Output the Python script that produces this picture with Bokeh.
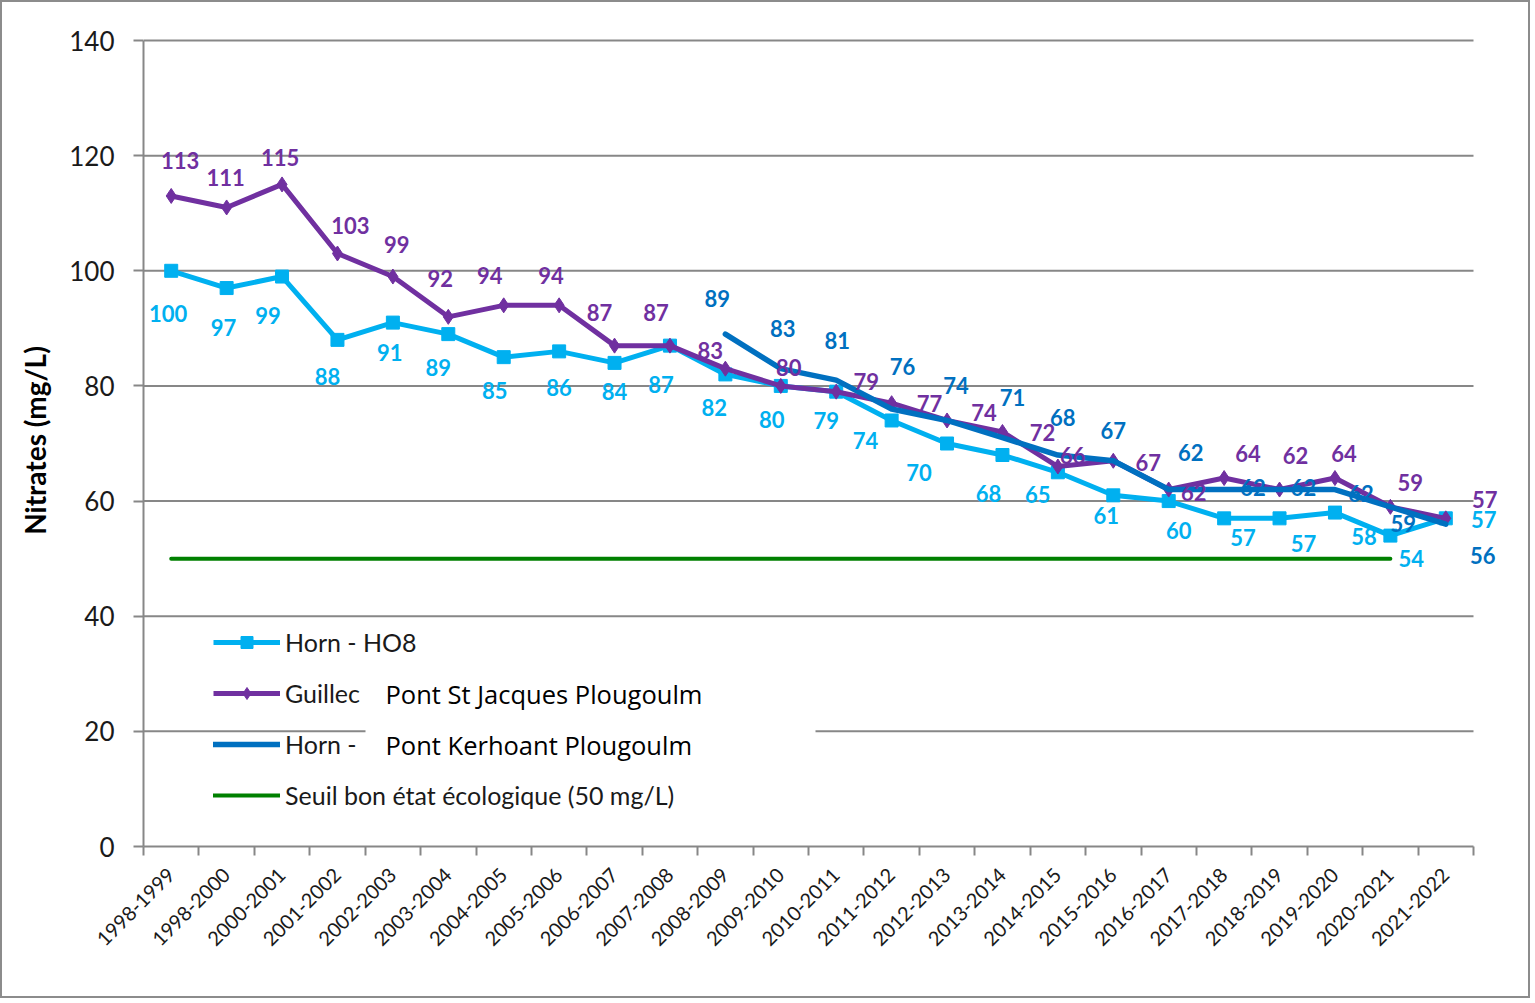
import math
import numpy as np
from bokeh.plotting import figure
from bokeh.models import (Range1d, FixedTicker, ColumnDataSource, Legend,
                          LegendItem, BoxAnnotation, Label, LabelSet)
from bokeh.core.properties import value
from bokeh.embed import file_html
from bokeh.resources import INLINE

# ---------------- data ----------------
categories = ["1998-1999", "1998-2000", "2000-2001", "2001-2002", "2002-2003", "2003-2004",
              "2004-2005", "2005-2006", "2006-2007", "2007-2008", "2008-2009", "2009-2010",
              "2010-2011", "2011-2012", "2012-2013", "2013-2014", "2014-2015", "2015-2016",
              "2016-2017", "2017-2018", "2018-2019", "2019-2020", "2020-2021", "2021-2022"]
horn_ho8 = [100, 97, 99, 88, 91, 89, 85, 86, 84, 87, 82, 80, 79, 74, 70, 68, 65, 61, 60, 57, 57, 58, 54, 57]
guillec = [113, 111, 115, 103, 99, 92, 94, 94, 87, 87, 83, 80, 79, 77, 74, 72, 66, 67, 62, 64, 62, 64, 59, 57]
horn_kerhoant = [None, None, None, None, None, None, None, None, None, None,
                 89, 83, 81, 76, 74, 71, 68, 67, 62, 62, 62, 62, 59, 56]
seuil = [50, 50, 50, 50, 50, 50, 50, 50, 50, 50, 50, 50,
         50, 50, 50, 50, 50, 50, 50, 50, 50, 50, 50, None]
y_ticks = [0, 20, 40, 60, 80, 100, 120, 140]

# label placement (screen px offsets, +right, +down)
ho8_lab_off = [(-3, 43), (-3, 39), (-14, 39), (-10, 37), (-3, 30), (-10, 33), (-9, 33), (0, 36),
               (0, 29), (-9, 39), (-11, 33), (-9, 34), (-10, 29), (-26, 20), (-28, 29), (-14, 38),
               (-20, 22), (-7, 20), (10, 29), (19, 19), (24, 25), (29, 24), (21, 23), (38, 1)]
gui_lab_off = [(9, -35), (-1, -30), (-2, -27), (13, -28), (4, -32), (-8, -38), (-14, -30), (-8, -30),
               (-15, -33), (-14, -33), (-15, -18), (8, -18), (30, -10), (38, 0), (37, -8), (40, 1),
               (15, -11), (35, 2), (25, 3), (24, -25), (16, -34), (9, -25), (20, -24), (39, -19)]
ker_lab_off = [(-8, -36), (2, -40), (1, -40), (11, -42), (9, -35), (10, -40), (5, -38), (0, -30),
               (22, -37), (29, -2), (24, -2), (26, 4), (13, 17), (37, 31)]

C_HO8 = "#00B0F0"
C_GUI = "#7030A0"
C_KER = "#0070C0"
C_SEU = "#008000"
GRID = "#878787"
FONT = "Lato"

n = len(categories)
xc = [i + 0.5 for i in range(n)]

# layout: category axis spans 143..1473 px, frame extended to 1505 so end labels are not clipped
X_PER = (1473 - 143) / n
X_END = (1505 - 143) / X_PER
Y_PER = (846 - 40) / 140
Y_END = 140 + 6 / Y_PER


def arr(v):
    return np.array([np.nan if a is None else a for a in v], dtype=float)


p = figure(width=1530, height=998, x_range=Range1d(0, X_END), y_range=Range1d(0, Y_END),
           output_backend="svg", toolbar_location=None,
           min_border_left=141, min_border_right=27, min_border_top=32, min_border_bottom=154)
p.styles = {"border": "2px solid #8c8c8c"}
p.outline_line_color = None
p.background_fill_color = "white"
p.border_fill_color = "white"
p.xgrid.grid_line_color = None
p.ygrid.grid_line_color = None

# horizontal gridlines, limited to the category span
grid_src = ColumnDataSource(dict(x0=[0] * (len(y_ticks) - 1), x1=[n] * (len(y_ticks) - 1),
                                 y=y_ticks[1:]))
p.segment(x0="x0", y0="y", x1="x1", y1="y", source=grid_src, line_color=GRID, line_width=2)

# y axis
p.yaxis.ticker = FixedTicker(ticks=y_ticks)
p.yaxis.bounds = (0, 140)
p.yaxis.axis_line_color = GRID
p.yaxis.axis_line_width = 2
p.yaxis.major_tick_line_color = GRID
p.yaxis.major_tick_line_width = 2
p.yaxis.major_tick_out = 10
p.yaxis.major_tick_in = 0
p.yaxis.minor_tick_line_color = None
p.yaxis.major_label_text_font = FONT
p.yaxis.major_label_text_font_size = "26px"
p.yaxis.major_label_text_color = "#1a1a1a"
p.yaxis.major_label_standoff = 19
p.yaxis.axis_label = "Nitrates (mg/L)"
p.yaxis.axis_label_text_font = FONT
p.yaxis.axis_label_text_font_style = "bold"
p.yaxis.axis_label_text_font_size = "28px"
p.yaxis.axis_label_text_color = "#000000"
p.yaxis.axis_label_standoff = 14

# x axis: labels at category centres, tick marks at category boundaries (minor ticks)
xa = p.xaxis[0]
xa.ticker = FixedTicker(ticks=xc, minor_ticks=list(range(n + 1)))
xa.bounds = (0, n)
xa.major_label_overrides = {x: c for x, c in zip(xc, categories)}
xa.major_tick_line_color = None
xa.minor_tick_line_color = GRID
xa.minor_tick_line_width = 2
xa.minor_tick_out = 9
xa.minor_tick_in = 0
xa.axis_line_color = GRID
xa.axis_line_width = 2
xa.major_label_orientation = math.pi / 4
xa.major_label_text_font = FONT
xa.major_label_text_font_size = "20px"
xa.major_label_text_color = "#1a1a1a"
xa.major_label_standoff = 16

# series
src_ho8 = ColumnDataSource(dict(x=xc, y=arr(horn_ho8)))
src_gui = ColumnDataSource(dict(x=xc, y=arr(guillec)))
src_ker = ColumnDataSource(dict(x=xc, y=arr(horn_kerhoant)))
src_seu = ColumnDataSource(dict(x=xc, y=arr(seuil)))

l_ho8 = p.line("x", "y", source=src_ho8, line_color=C_HO8, line_width=5, line_join="round")
m_ho8 = p.scatter("x", "y", source=src_ho8, marker="square", size=13, fill_color=C_HO8, line_color=C_HO8)
l_gui = p.line("x", "y", source=src_gui, line_color=C_GUI, line_width=5, line_join="round")
m_gui = p.scatter("x", "y", source=src_gui, marker="diamond", size=15, fill_color=C_GUI, line_color=C_GUI)
l_ker = p.line("x", "y", source=src_ker, line_color=C_KER, line_width=5.5, line_join="round", line_cap="round")
l_seu = p.line("x", "y", source=src_seu, line_color=C_SEU, line_width=4, line_cap="round")


def labels(values, offs, color):
    xs, ys, ts, dx, dy = [], [], [], [], []
    k = 0
    for i, v in enumerate(values):
        if v is None:
            continue
        xs.append(xc[i]); ys.append(v); ts.append(str(v))
        dx.append(offs[k][0]); dy.append(-offs[k][1])
        k += 1
    src = ColumnDataSource(dict(x=xs, y=ys, t=ts, dx=dx, dy=dy))
    p.add_layout(LabelSet(x="x", y="y", text="t", x_offset="dx", y_offset="dy", source=src,
                          text_color=color, text_font=value(FONT), text_font_style="bold",
                          text_font_size="22px", text_align="center", text_baseline="middle"))


labels(horn_ho8, ho8_lab_off, C_HO8)
labels(guillec, gui_lab_off, C_GUI)
labels(horn_kerhoant, ker_lab_off, C_KER)


def px_x(px):
    return (px - 143) / X_PER


def px_y(py):
    return (846 - py) / Y_PER


# white pasted box behind legend overlay texts
p.add_layout(BoxAnnotation(left=px_x(365), right=px_x(815), bottom=px_y(764), top=px_y(668),
                           fill_color="white", fill_alpha=1, line_color=None, level="annotation"))

legend = Legend(items=[
    LegendItem(label="Horn - HO8", renderers=[l_ho8, m_ho8]),
    LegendItem(label="Guillec", renderers=[l_gui, m_gui]),
    LegendItem(label="Horn -", renderers=[l_ker]),
    LegendItem(label="Seuil bon état écologique (50 mg/L)", renderers=[l_seu]),
], location=(70, 36), orientation="vertical", background_fill_alpha=0, border_line_color=None,
    padding=0, margin=0, spacing=21, glyph_height=30, label_height=30, glyph_width=67,
    label_standoff=5, label_text_font=FONT, label_text_font_size="25px", label_text_color="#1a1a1a")
p.add_layout(legend, "center")

for txt, py in (("Pont St Jacques Plougoulm", 693), ("Pont Kerhoant Plougoulm", 744)):
    p.add_layout(Label(x=px_x(385), y=px_y(py), text=txt, text_font="Open Sans",
                       text_font_size="25.5px", text_color="#000000", text_align="left",
                       text_baseline="middle"))

open("out.html", "w").write(file_html(p, INLINE))
